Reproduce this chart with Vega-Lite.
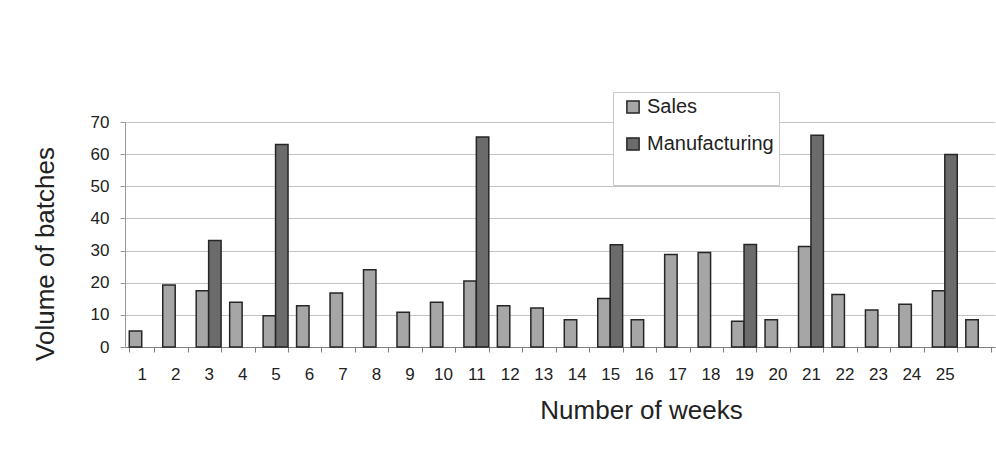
{
  "$schema": "https://vega.github.io/schema/vega-lite/v6.json",
  "width": 870,
  "height": 225,
  "autosize": "none",
  "padding": {"left": 125, "top": 122, "right": 1, "bottom": 115},
  "background": "white",
  "config": {
    "font": "Liberation Sans",
    "view": {"stroke": null},
    "axis": {"labelColor": "#222", "titleColor": "#222", "titleFontWeight": "normal"}
  },
  "data": {
    "values": [
      {"week": 1, "series": "Sales", "value": 5.0},
      {"week": 2, "series": "Sales", "value": 19.3},
      {"week": 3, "series": "Sales", "value": 17.5},
      {"week": 3, "series": "Manufacturing", "value": 33.1},
      {"week": 4, "series": "Sales", "value": 13.9},
      {"week": 5, "series": "Sales", "value": 9.7},
      {"week": 5, "series": "Manufacturing", "value": 63.0},
      {"week": 6, "series": "Sales", "value": 12.8},
      {"week": 7, "series": "Sales", "value": 16.8},
      {"week": 8, "series": "Sales", "value": 24.0},
      {"week": 9, "series": "Sales", "value": 10.8},
      {"week": 10, "series": "Sales", "value": 13.9},
      {"week": 11, "series": "Sales", "value": 20.5},
      {"week": 11, "series": "Manufacturing", "value": 65.3},
      {"week": 12, "series": "Sales", "value": 12.8},
      {"week": 13, "series": "Sales", "value": 12.1},
      {"week": 14, "series": "Sales", "value": 8.5},
      {"week": 15, "series": "Sales", "value": 15.1},
      {"week": 15, "series": "Manufacturing", "value": 31.8},
      {"week": 16, "series": "Sales", "value": 8.5},
      {"week": 17, "series": "Sales", "value": 28.8},
      {"week": 18, "series": "Sales", "value": 29.4},
      {"week": 19, "series": "Sales", "value": 8.0},
      {"week": 19, "series": "Manufacturing", "value": 31.9},
      {"week": 20, "series": "Sales", "value": 8.5},
      {"week": 21, "series": "Sales", "value": 31.3},
      {"week": 21, "series": "Manufacturing", "value": 65.9},
      {"week": 22, "series": "Sales", "value": 16.3},
      {"week": 23, "series": "Sales", "value": 11.5},
      {"week": 24, "series": "Sales", "value": 13.3},
      {"week": 25, "series": "Sales", "value": 17.5},
      {"week": 25, "series": "Manufacturing", "value": 59.9},
      {"week": 26, "series": "Sales", "value": 8.5}
    ]
  },
  "mark": {"type": "bar", "stroke": "#262626", "strokeWidth": 1.5},
  "encoding": {
    "x": {
      "field": "week",
      "type": "ordinal",
      "sort": "ascending",
      "scale": {"paddingInner": 0.256, "paddingOuter": 0.128},
      "axis": {
        "title": "Number of weeks",
        "titleFontSize": 26,
        "titleX": 516,
        "titleY": 71,
        "titleAlign": "center",
        "titleBaseline": "alphabetic",
        "labelAngle": 0,
        "labelFontSize": 17,
        "labelBaseline": "alphabetic",
        "labelPadding": 27,
        "labelExpr": "datum.value == 26 ? '' : datum.label",
        "tickBand": "extent",
        "tickSize": 5,
        "tickColor": "#808080",
        "domainColor": "#808080",
        "grid": false
      }
    },
    "xOffset": {
      "field": "series",
      "type": "nominal",
      "scale": {"domain": ["Sales", "Manufacturing"], "paddingInner": 0, "paddingOuter": 0}
    },
    "y": {
      "field": "value",
      "type": "quantitative",
      "scale": {"domain": [0, 70], "nice": false},
      "axis": {
        "title": "Volume of batches",
        "titleFontSize": 26,
        "titleX": -72,
        "titleY": 131.5,
        "titleBaseline": "alphabetic",
        "values": [0, 10, 20, 30, 40, 50, 60, 70],
        "labelFontSize": 17,
        "labelPadding": 11,
        "labelBaseline": "middle",
        "tickSize": 5,
        "tickColor": "#999999",
        "domainColor": "#999999",
        "grid": true,
        "gridColor": "#c4c4c4",
        "gridWidth": 1
      }
    },
    "fill": {
      "field": "series",
      "type": "nominal",
      "scale": {"domain": ["Sales", "Manufacturing"], "range": ["#a6a6a6", "#6b6b6b"]},
      "legend": {
        "orient": "none",
        "legendX": 488,
        "legendY": -30,
        "title": "\u00a0\u00a0\u00a0\u00a0\u00a0\u00a0\u00a0\u00a0\u00a0\u00a0\u00a0\u00a0\u00a0\u00a0\u00a0\u00a0\u00a0\u00a0\u00a0\u00a0\u00a0\u00a0\u00a0\u00a0\u00a0\u00a0\u00a0\u00a0\u00a0\u00a0\u00a0\u00a0\u00a0\u00a0\u00a0\u00a0\u00a0\u00a0\u00a0\u00a0\u00a0\u00a0\u00a0\u00a0\u00a0\u00a0\u00a0\u00a0\u00a0\u00a0\u00a0\u00a0\u00a0\u00a0\u00a0\u00a0\u00a0\u00a0\u00a0\u00a0\u00a0\u00a0\u00a0\u00a0\u00a0\u00a0\u00a0\u00a0\u00a0\u00a0\u00a0\u00a0\u00a0\u00a0\u00a0\u00a0\u00a0\u00a0\u00a0\u00a0",
        "titleOrient": "bottom",
        "titleFontSize": 19,
        "titlePadding": 7,
        "padding": 5,
        "fillColor": "white",
        "strokeColor": "#c8c8c8",
        "symbolType": "square",
        "symbolSize": 150,
        "symbolStrokeColor": "#262626",
        "symbolStrokeWidth": 1.5,
        "symbolOffset": 5,
        "labelOffset": 4,
        "labelFontSize": 20,
        "labelColor": "#222",
        "rowPadding": 17,
        "labelLimit": 300
      }
    }
  }
}
